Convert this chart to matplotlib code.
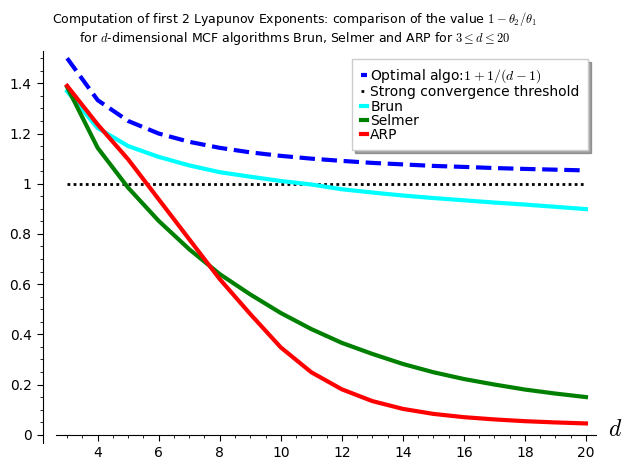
import matplotlib
matplotlib.use("Agg")
import matplotlib.pyplot as plt
from matplotlib.ticker import FixedLocator, FuncFormatter

plt.rcParams["mathtext.fontset"] = "cm"

# dimensions d = 3 .. 20
dims = [3, 4, 5, 6, 7, 8, 9, 10, 11, 12, 13, 14, 15, 16, 17, 18, 19, 20]

# optimal value 1 + 1/(d-1)
optimal = [1.5, 1.333, 1.25, 1.2, 1.167, 1.143, 1.125, 1.111, 1.1, 1.091,
           1.083, 1.077, 1.071, 1.067, 1.0625, 1.059, 1.056, 1.053]
threshold = [1.0] * len(dims)
brun = [1.368, 1.222, 1.15, 1.107, 1.073, 1.046, 1.028, 1.011, 0.997, 0.978,
        0.965, 0.953, 0.943, 0.934, 0.925, 0.917, 0.908, 0.899]
selmer = [1.385, 1.143, 0.984, 0.852, 0.739, 0.64, 0.559, 0.485, 0.421, 0.366,
          0.322, 0.282, 0.249, 0.222, 0.2, 0.18, 0.164, 0.15]
arp = [1.39, 1.236, 1.097, 0.938, 0.779, 0.62, 0.481, 0.348, 0.249, 0.181,
       0.134, 0.103, 0.083, 0.07, 0.061, 0.054, 0.049, 0.045]

yticks = [0, 0.2, 0.4, 0.6, 0.8, 1.0, 1.2, 1.4]
xticks = [4, 6, 8, 10, 12, 14, 16, 18, 20]

fig = plt.figure(figsize=(6.3, 4.69), dpi=100)
ax = fig.add_axes([0.0678, 0.0554, 0.8778, 0.8365])

ax.plot(dims, optimal, color="#0000ff", lw=3, ls="--", label=r"Optimal algo:$1+1/(d-1)$")
ax.plot(dims, threshold, color="black", lw=2, ls=(0, (1, 1.2)), label="Strong convergence threshold")
ax.plot(dims, brun, color="#00ffff", lw=3, label="Brun")
ax.plot(dims, selmer, color="#008000", lw=3, label="Selmer")
ax.plot(dims, arp, color="#ff0000", lw=3, label="ARP")

ax.set_xlim(2.2, 20.32)
ax.set_ylim(-0.033, 1.53)

for s in ("top", "right"):
    ax.spines[s].set_visible(False)
ax.spines["bottom"].set_position(("data", 0))
ax.spines["bottom"].set_bounds(2.634, 20.32)

ax.xaxis.set_major_locator(FixedLocator(xticks))
ax.xaxis.set_minor_locator(FixedLocator([3 + 0.5 * i for i in range(35)]))
ax.yaxis.set_major_locator(FixedLocator(yticks))
ax.yaxis.set_minor_locator(FixedLocator([0.05 * i for i in range(31)]))
ax.yaxis.set_major_formatter(FuncFormatter(lambda v, p: "%g" % round(v, 2)))
ax.tick_params(which="major", length=4.5, labelsize=10)
ax.tick_params(which="minor", length=2.5)

ax.text(20.71, -0.004, r"$d$", fontsize=17, ha="left", va="baseline")

leg = ax.legend(loc="upper right", bbox_to_anchor=(0.986, 0.979), borderaxespad=0,
                shadow=True, fancybox=False, handlelength=0.5, handletextpad=0.2,
                labelspacing=0.02, borderpad=0.6, fontsize=10, framealpha=1)
leg.get_frame().set_edgecolor("#cccccc")

fig.text(0.468, 0.979,
         "Computation of first 2 Lyapunov Exponents: comparison of the value $1-\\theta_2/\\theta_1$\n"
         "for $d$-dimensional MCF algorithms Brun, Selmer and ARP for $3\\leq d\\leq 20$",
         ha="center", va="top", fontsize=9)

fig.savefig("out.png", dpi=100)
